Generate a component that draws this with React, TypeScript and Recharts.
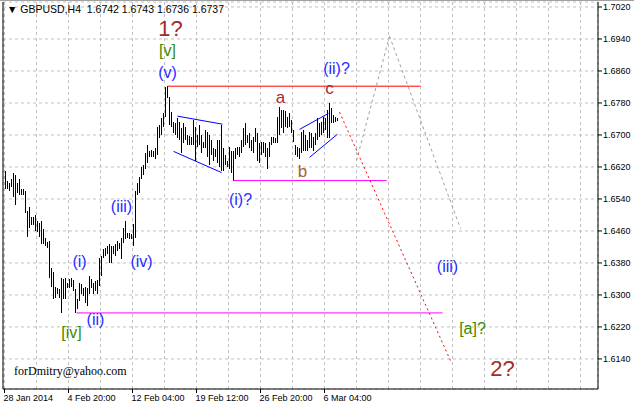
import {
  Bar,
  CartesianGrid,
  ComposedChart,
  ReferenceDot,
  ReferenceLine,
  XAxis,
  YAxis,
} from 'recharts';

// H4 bars, oldest first: highs and lows
const highs = [
  1.6609, 1.6584, 1.6581, 1.6589, 1.6606, 1.6599, 1.6579, 1.6591, 1.6566, 1.6564,
  1.6559, 1.6511, 1.6519, 1.6494, 1.6494, 1.6499, 1.6486, 1.6481, 1.6486, 1.6466,
  1.6443, 1.6433, 1.6436, 1.6368, 1.6358, 1.6321, 1.6318, 1.6316, 1.6343, 1.6341,
  1.6343, 1.6331, 1.6341, 1.6343, 1.6338, 1.6316, 1.629, 1.6331, 1.6328, 1.6318,
  1.6321, 1.6318, 1.6348, 1.6341, 1.6331, 1.6336, 1.6338, 1.6393, 1.6398, 1.6416,
  1.6418, 1.6423, 1.6428, 1.6423, 1.6423, 1.6428, 1.6436, 1.6431, 1.6443, 1.6468,
  1.6486, 1.6456, 1.6454, 1.6453, 1.6478, 1.6561, 1.6579, 1.6594, 1.6619, 1.6624,
  1.6656, 1.6674, 1.6661, 1.6663, 1.6661, 1.6667, 1.6719, 1.6724, 1.6742, 1.6754,
  1.6819, 1.6822, 1.6794, 1.6757, 1.6732, 1.6729, 1.6742, 1.6732, 1.6717, 1.6729,
  1.6719, 1.6699, 1.6697, 1.6694, 1.6737, 1.6719, 1.6699, 1.6724, 1.6699, 1.6682,
  1.6712, 1.6707, 1.6699, 1.6687, 1.6667, 1.6664, 1.6687, 1.6687, 1.6724, 1.6667,
  1.6649, 1.6636, 1.6669, 1.6661, 1.6661, 1.6667, 1.6669, 1.6669, 1.6687, 1.6717,
  1.6729, 1.6699, 1.6704, 1.6687, 1.6694, 1.6717, 1.6704, 1.6679, 1.6682, 1.6682,
  1.6679, 1.6667, 1.6682, 1.6694, 1.6694, 1.6692, 1.6744, 1.6769, 1.6762, 1.6762,
  1.676, 1.6744, 1.6754, 1.6737, 1.6712, 1.6674, 1.6669, 1.6667, 1.6707, 1.6712,
  1.6699, 1.6687, 1.6707, 1.6704, 1.6694, 1.6704, 1.6742, 1.6729, 1.6732, 1.6744,
  1.6742, 1.6762, 1.6779, 1.6767, 1.6749, 1.6744, 1.6743,
];
const lows = [
  1.6564, 1.6564, 1.6559, 1.6569, 1.6544, 1.6526, 1.6554, 1.6549, 1.6549, 1.6551,
  1.6506, 1.6446, 1.6468, 1.6476, 1.6476, 1.6461, 1.6458, 1.6446, 1.6428, 1.6428,
  1.6423, 1.6418, 1.6343, 1.6321, 1.629, 1.6293, 1.6303, 1.6293, 1.6255, 1.629,
  1.629, 1.6318, 1.6318, 1.6321, 1.6311, 1.6254, 1.6265, 1.6285, 1.6303, 1.6298,
  1.628, 1.6273, 1.6303, 1.6318, 1.6303, 1.6311, 1.6303, 1.6323, 1.6348, 1.6393,
  1.6398, 1.6403, 1.6381, 1.6381, 1.6403, 1.6398, 1.6411, 1.6416, 1.6391, 1.6431,
  1.6441, 1.6443, 1.6441, 1.6441, 1.6423, 1.6443, 1.6549, 1.6556, 1.6591, 1.6599,
  1.6616, 1.6631, 1.6644, 1.6646, 1.6644, 1.6641, 1.6649, 1.6692, 1.6699, 1.6719,
  1.6744, 1.6792, 1.6724, 1.6719, 1.6704, 1.6699, 1.6692, 1.6687, 1.6654, 1.6679,
  1.6687, 1.6674, 1.6676, 1.6674, 1.6674, 1.6636, 1.6669, 1.6674, 1.6656, 1.6667,
  1.6667, 1.6644, 1.6624, 1.6649, 1.6636, 1.6644, 1.6631, 1.6619, 1.6611, 1.6611,
  1.6624, 1.6619, 1.6616, 1.6604, 1.6586, 1.6641, 1.6649, 1.6644, 1.6654, 1.6669,
  1.6674, 1.6679, 1.6667, 1.6661, 1.6656, 1.6682, 1.6636, 1.6631, 1.6649, 1.6656,
  1.6644, 1.6616, 1.6644, 1.6674, 1.6679, 1.668, 1.6679, 1.6699, 1.6717, 1.6704,
  1.6719, 1.6717, 1.6719, 1.6704, 1.6682, 1.6649, 1.6644, 1.6641, 1.6654, 1.6661,
  1.6661, 1.6661, 1.6667, 1.6667, 1.6661, 1.6674, 1.6687, 1.6694, 1.6699, 1.6704,
  1.6712, 1.6692, 1.6692, 1.6729, 1.6729, 1.6732, 1.6736,
];

const priceTicks = [
  1.614, 1.622, 1.63, 1.638, 1.646, 1.654, 1.662, 1.67, 1.678, 1.686, 1.694, 1.702,
];
const gridBars = Array.from({ length: 19 }, (_, k) => -0.5 + 16 * k);
const timeLabelBars = [-0.5, 31.5, 63.5, 95.5, 127.5, 159.5];
const timeLabels = [
  '28 Jan 2014',
  '4 Feb 20:00',
  '12 Feb 04:00',
  '19 Feb 12:00',
  '26 Feb 20:00',
  '6 Mar 04:00',
];

// horizontal levels: [fromBar, toBar, price]
const redLevel = [81, 207.5, 1.6822];
const pinkLevels = [
  [114, 190.5, 1.6586],
  [35.5, 218.5, 1.6255],
];
// channel lines: [bar1, price1, bar2, price2]
const channels = [
  [86, 1.6747, 108.5, 1.6727],
  [84, 1.6659, 108, 1.6606],
  [147, 1.6714, 161.5, 1.6754],
  [152, 1.6644, 166, 1.6702],
];
const redPath = [
  [167, 1.6757],
  [223, 1.613],
];
const grayPath = [
  [175.5, 1.6636],
  [192, 1.6947],
  [227.5, 1.6466],
];

const BLUE = '#2a2aff';
const BROWN = '#a52a2a';
const GREEN = '#3a8c00';

const notes = [
  { i: 82.5, p: 1.6965, t: '1?', c: BROWN, fs: 22 },
  { i: 81, p: 1.6912, t: '[v]', c: GREEN, fs: 16 },
  { i: 81, p: 1.6857, t: '(v)', c: BLUE, fs: 16 },
  { i: 58, p: 1.6521, t: '(iii)', c: BLUE, fs: 16 },
  { i: 37, p: 1.6383, t: '(i)', c: BLUE, fs: 16 },
  { i: 68, p: 1.6383, t: '(iv)', c: BLUE, fs: 16 },
  { i: 45, p: 1.6238, t: '(ii)', c: BLUE, fs: 16 },
  { i: 33, p: 1.6205, t: '[iv]', c: GREEN, fs: 16 },
  { i: 117.5, p: 1.6539, t: '(i)?', c: BLUE, fs: 16 },
  { i: 137.5, p: 1.6794, t: 'a', c: BROWN, fs: 17 },
  { i: 148.5, p: 1.6609, t: 'b', c: '#b0602a', fs: 17 },
  { i: 162, p: 1.6817, t: 'c', c: BROWN, fs: 17 },
  { i: 165.5, p: 1.6867, t: '(ii)?', c: BLUE, fs: 16 },
  { i: 221, p: 1.6371, t: '(iii)', c: BLUE, fs: 16 },
  { i: 233.5, p: 1.6215, t: '[a]?', c: GREEN, fs: 16 },
  { i: 248.5, p: 1.6117, t: '2?', c: BROWN, fs: 22 },
];

const bars = highs.map((h, i) => ({ i, range: [lows[i], h] }));

const AXIS_FONT = '"Liberation Sans", Arial, sans-serif';

function XTick({ x, y, payload }: any) {
  const k = timeLabelBars.indexOf(payload.value);
  if (k < 0) return <g />;
  return (
    <g>
      <line x1={x} x2={x} y1={y} y2={y + 4} stroke="#000" />
      <text x={x - 1} y={y + 12} fontSize={9} fontFamily={AXIS_FONT} fill="#000">
        {timeLabels[k]}
      </text>
    </g>
  );
}

function YTick({ x, y, payload }: any) {
  return (
    <g>
      <line x1={x} x2={x + 4} y1={y} y2={y} stroke="#000" />
      <text x={x + 5} y={y + 3.5} fontSize={9} fontFamily={AXIS_FONT} fill="#000">
        {Number(payload.value).toFixed(4)}
      </text>
    </g>
  );
}

// one crisp 1px line per bar, from low to high
function HiLo(props: any) {
  const { x, y, width, height } = props;
  if (x == null || y == null) return <g />;
  const cx = Math.round(x + width / 2 - 0.5);
  const top = Math.round(y);
  const h = Math.max(1, Math.round(y + height) - top);
  return <rect x={cx} y={top} width={1} height={h} fill="#000" />;
}

export default function App() {
  return (
    <div
      style={{
        position: 'absolute',
        left: 0,
        top: 0,
        width: 634,
        height: 406,
        background: '#fff',
        borderTop: '1px solid #a0a0a0',
        boxSizing: 'border-box',
      }}
    >
      <ComposedChart
        width={634}
        height={405}
        data={bars}
        margin={{ top: 1, right: 0, bottom: 0, left: 3 }}
      >
        <CartesianGrid stroke="#c0c0c0" strokeDasharray="3 3" />
        <XAxis
          dataKey="i"
          type="number"
          domain={[-1.25, 296.25]}
          allowDataOverflow
          ticks={gridBars}
          interval={0}
          height={17}
          axisLine={{ stroke: '#000' }}
          tickLine={false}
          tickSize={0}
          tickMargin={0}
          tick={<XTick />}
        />
        <YAxis
          orientation="right"
          type="number"
          domain={[1.60648, 1.70325]}
          allowDataOverflow
          ticks={priceTicks}
          interval={0}
          width={36}
          axisLine={{ stroke: '#000' }}
          tickLine={false}
          tickSize={0}
          tickMargin={0}
          tick={<YTick />}
        />
        <ReferenceLine x={-1.25} stroke="#000" />
        <Bar
          dataKey="range"
          barSize={1}
          fill="#000"
          shape={<HiLo />}
          isAnimationActive={false}
        />
        <ReferenceLine
          segment={[
            { x: redLevel[0], y: redLevel[2] },
            { x: redLevel[1], y: redLevel[2] },
          ]}
          stroke="#ff0000"
        />
        {pinkLevels.map((l, k) => (
          <ReferenceLine
            key={'p' + k}
            segment={[
              { x: l[0], y: l[2] },
              { x: l[1], y: l[2] },
            ]}
            stroke="#ff00ff"
          />
        ))}
        {channels.map((c, k) => (
          <ReferenceLine
            key={'c' + k}
            segment={[
              { x: c[0], y: c[1] },
              { x: c[2], y: c[3] },
            ]}
            stroke="#0000ff"
          />
        ))}
        <ReferenceLine
          segment={[
            { x: redPath[0][0], y: redPath[0][1] },
            { x: redPath[1][0], y: redPath[1][1] },
          ]}
          stroke="#ff0000"
          strokeDasharray="2 3"
        />
        {grayPath.slice(1).map((pt, k) => (
          <ReferenceLine
            key={'g' + k}
            segment={[
              { x: grayPath[k][0], y: grayPath[k][1] },
              { x: pt[0], y: pt[1] },
            ]}
            stroke="#a0a0a0"
            strokeDasharray="3 3"
          />
        ))}
        {notes.map((n, k) => (
          <ReferenceDot
            key={'n' + k}
            x={n.i}
            y={n.p}
            r={0}
            shape={(props: any) => (
              <text
                x={props.cx}
                y={props.cy}
                textAnchor="middle"
                dominantBaseline="central"
                fontSize={n.fs}
                fontFamily={AXIS_FONT}
                fill={n.c}
              >
                {n.t}
              </text>
            )}
          />
        ))}
      </ComposedChart>
      <div
        style={{
          position: 'absolute',
          left: 7,
          top: 3,
          fontFamily: AXIS_FONT,
          fontSize: 10.5,
          lineHeight: '11px',
          whiteSpace: 'pre',
          color: '#000',
        }}
      >
        {'\u25BC GBPUSD,H4  1.6742 1.6743 1.6736 1.6737'}
      </div>
      <div
        style={{
          position: 'absolute',
          left: 14,
          top: 363,
          fontFamily: '"Liberation Serif", "Times New Roman", serif',
          fontSize: 12,
          color: '#000',
        }}
      >
        forDmitry@yahoo.com
      </div>
    </div>
  );
}
